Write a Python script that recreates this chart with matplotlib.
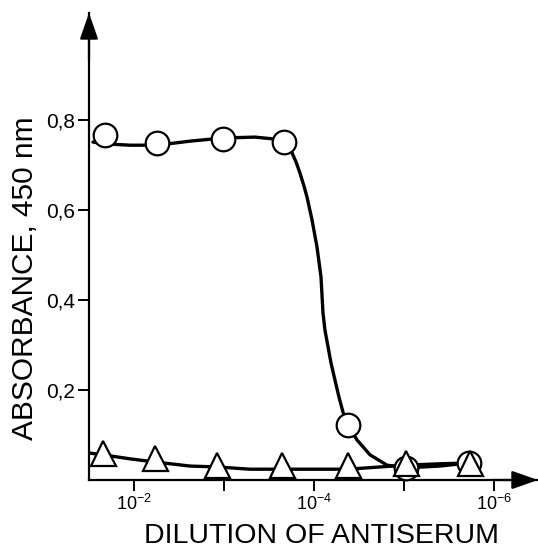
import numpy as np
import matplotlib
matplotlib.use("Agg")
import matplotlib.pyplot as plt

plt.rcParams["font.family"] = ["Liberation Sans", "DejaVu Sans"]
plt.rcParams["mathtext.fontset"] = "custom"
plt.rcParams["mathtext.rm"] = "Liberation Sans"

# Messpunkte (log10 der Verduennung, Absorption)
circle_logx = [-1.678, -2.256, -2.989, -3.667, -4.378, -5.022, -5.722]
circle_abs = [0.767, 0.749, 0.758, 0.751, 0.123, 0.027, 0.038]

triangle_logx = [-1.656, -2.233, -2.922, -3.644, -4.378, -5.022, -5.733]
triangle_abs = [0.060, 0.049, 0.033, 0.033, 0.033, 0.038, 0.038]

# Handgezeichnete Kurven
circle_curve_logx = [-1.544, -1.678, -1.956, -2.256, -2.622, -2.989, -3.344, -3.544,
                     -3.667, -3.700, -3.756, -3.800, -3.844, -3.889, -3.922, -3.978,
                     -4.033, -4.056, -4.078, -4.089, -4.100, -4.122, -4.156, -4.189,
                     -4.233, -4.278, -4.322, -4.378, -4.478, -4.622, -4.811, -5.022,
                     -5.400, -5.722]
circle_curve_abs = [0.751, 0.747, 0.744, 0.744, 0.753, 0.760, 0.762, 0.758,
                    0.751, 0.742, 0.727, 0.707, 0.682, 0.653, 0.629, 0.578,
                    0.518, 0.484, 0.451, 0.411, 0.371, 0.333, 0.296, 0.260,
                    0.222, 0.184, 0.151, 0.122, 0.089, 0.056, 0.033, 0.027,
                    0.031, 0.038]

triangle_curve_logx = [-1.5, -1.656, -1.956, -2.233, -2.622, -2.922, -3.289, -3.644,
                       -4.378, -4.733, -5.022, -5.400, -5.733]
triangle_curve_abs = [0.060, 0.056, 0.047, 0.040, 0.031, 0.029, 0.024, 0.024,
                      0.024, 0.029, 0.033, 0.036, 0.038]

xtick_pos = [1e-2, 1e-3, 1e-4, 1e-5, 1e-6]
xtick_labels = ["$10^{-2}$", "", "$10^{-4}$", "", "$10^{-6}$"]
ytick_pos = [0.2, 0.4, 0.6, 0.8]
ytick_labels = ["0,2", "0,4", "0,6", "0,8"]


def main():
    W, H = 538, 553
    fig = plt.figure(figsize=(W / 100, H / 100), dpi=100)
    ax = fig.add_axes([89 / W, 73 / H, (538 - 89) / W, 467 / H])

    ax.set_xscale("log")
    ax.set_xlim(10 ** -1.5, 10 ** -6.489)
    ax.set_ylim(0, 467 / 450)

    ax.plot(10 ** np.array(circle_curve_logx), circle_curve_abs, color="black", lw=2.4,
            solid_capstyle="round", solid_joinstyle="round", zorder=2)
    ax.plot(10 ** np.array(triangle_curve_logx), triangle_curve_abs, color="black", lw=2.4,
            solid_capstyle="round", solid_joinstyle="round", zorder=2)

    ax.plot(10 ** np.array(circle_logx), circle_abs, "o", ms=17, mfc="white", mec="black",
            mew=1.6, zorder=3, clip_on=False)
    ax.plot(10 ** np.array(triangle_logx), triangle_abs, "^", ms=18, mfc="white", mec="black",
            mew=1.6, zorder=4, clip_on=False)

    for s in ["top", "right"]:
        ax.spines[s].set_visible(False)
    for s in ["left", "bottom"]:
        ax.spines[s].set_linewidth(1.6)

    arrow = dict(arrowstyle="-|>,head_length=0.8,head_width=0.28", color="black", lw=1.6,
                 shrinkA=0, shrinkB=0, mutation_scale=20)
    ax.annotate("", xy=(0, 1), xytext=(0, 0.9), xycoords="axes fraction", arrowprops=arrow)
    ax.annotate("", xy=(1, 0), xytext=(0.9, 0), xycoords="axes fraction", arrowprops=arrow)

    ax.set_xticks(xtick_pos)
    ax.set_xticklabels(xtick_labels, fontsize=13)
    ax.minorticks_off()
    ax.set_yticks(ytick_pos)
    ax.set_yticklabels(ytick_labels, fontsize=15)
    ax.tick_params(direction="out", length=8, width=1.4, pad=2)

    ax.set_xlabel("DILUTION OF ANTISERUM", fontsize=20.5)
    ax.set_ylabel("ABSORBANCE, 450 nm", fontsize=21.5)
    ax.xaxis.set_label_coords(0.517, -0.092)
    ax.yaxis.set_label_coords(-0.112, 0.433)

    fig.savefig("out.png", dpi=100)


if __name__ == "__main__":
    main()
